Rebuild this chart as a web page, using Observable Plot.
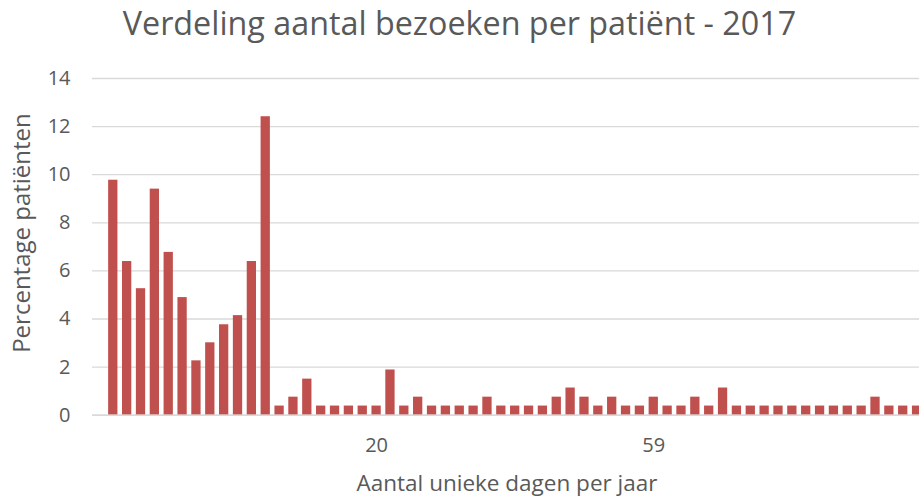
<!DOCTYPE html>
<html>
<head>
<meta charset="utf-8">
<script src="https://cdn.jsdelivr.net/npm/d3@7"></script>
<script src="https://cdn.jsdelivr.net/npm/@observablehq/plot@0.6"></script>
<style>
  html, body { margin: 0; padding: 0; background: #ffffff; }
  body { width: 919px; height: 500px; overflow: hidden; font-family: "Open Sans", sans-serif; }
  #title { width: 919px; height: 60px; padding-top: 0px; text-align: center; font-size: 32.3px; color: #595959; white-space: nowrap; line-height: normal; }
  #chart svg { display: block; }
</style>
</head>
<body>
<div id="title">Verdeling aantal bezoeken per patiënt - 2017</div>
<div id="chart"></div>
<script>
// Categories (number of unique visit days per year); only "20" and "59" are labelled in the picture
const categories = [
  "", "1", "2", "3", "4", "5", "6", "7", "8", "9", "10",
  "11", "12", "13", "14", "15", "16", "17", "18", "19", "20",
  "21", "22", "23", "24", "25", "26", "27", "28", "29", "30",
  "31", "33", "35", "37", "40", "43", "47", "52", "55", "59",
  "61", "63", "66", "70", "74", "78", "83", "88", "95", "101",
  "108", "116", "125", "139", "152", "170", "188", "210", "245"
];
// Percentage of patients per category
const percentages = [
  0, 9.77, 6.39, 5.26, 9.40, 6.77, 4.89, 2.26, 3.01, 3.76, 4.14,
  6.39, 12.41, 0.38, 0.75, 1.50, 0.38, 0.38, 0.38, 0.38, 0.38,
  1.88, 0.38, 0.75, 0.38, 0.38, 0.38, 0.38, 0.75, 0.38, 0.38,
  0.38, 0.38, 0.75, 1.13, 0.75, 0.38, 0.75, 0.38, 0.38, 0.75,
  0.38, 0.38, 0.75, 0.38, 1.13, 0.38, 0.38, 0.38, 0.38, 0.38,
  0.38, 0.38, 0.38, 0.38, 0.38, 0.75, 0.38, 0.38, 0.38
];
const xTickLabels = ["20", "59"];
const yTicks = [0, 2, 4, 6, 8, 10, 12, 14];
const yTitle = "Percentage patiënten";
const xTitle = "Aantal unieke dagen per jaar";

const data = categories.map((c, i) => ({ cat: c, pct: percentages[i] }));

const textColor = "#595959";
const chart = Plot.plot({
  width: 919,
  height: 440,
  marginLeft: 92,
  marginRight: 0,
  marginTop: 18,
  marginBottom: 85.3,
  style: { fontFamily: "Open Sans, sans-serif", fontSize: "20px", color: textColor, background: "#ffffff", overflow: "visible" },
  x: { domain: categories, range: [92, 923.5], paddingInner: 0.33, paddingOuter: 0.165, round: false },
  y: { domain: [0, 14] },
  marks: [
    Plot.gridY(yTicks, { stroke: "#d9d9d9", strokeOpacity: 1, strokeWidth: 1.3 }),
    Plot.barY(data, { x: "cat", y: "pct", fill: "#C0504D" }),
    Plot.ruleY([0], { stroke: "#d9d9d9", strokeWidth: 1.6 }),
    Plot.axisY(yTicks, { tickSize: 0, tickPadding: 22, label: null, fontSize: 20, fill: textColor }),
    Plot.axisX(xTickLabels, { tickSize: 0, tickPadding: 23, label: null, fontSize: 20, fill: textColor }),
    Plot.text([xTitle], { frameAnchor: "bottom", lineAnchor: "bottom", dx: 1, dy: 75.3, fontSize: 22.5, fill: textColor })
  ]
});
// y-axis title, rotated, left of the tick labels
d3.select(chart).append("text")
  .attr("transform", "translate(22,173) rotate(-90)")
  .attr("text-anchor", "middle")
  .attr("dy", "0.35em")
  .attr("fill", textColor)
  .attr("font-size", 24)
  .text(yTitle);
document.getElementById("chart").appendChild(chart);
</script>
</body>
</html>
